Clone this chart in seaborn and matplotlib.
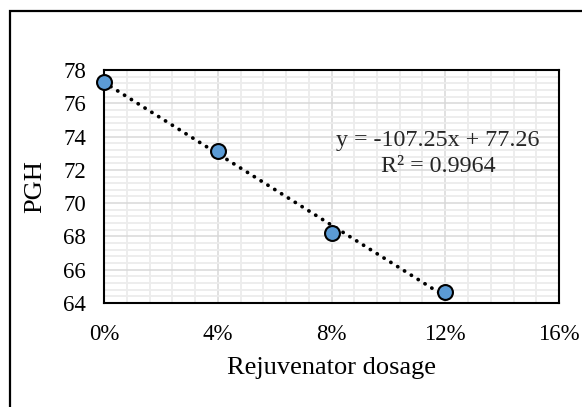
import matplotlib
matplotlib.use("Agg")
import matplotlib.pyplot as plt
import seaborn as sns
import numpy as np
import pandas as pd
from matplotlib.ticker import MultipleLocator, PercentFormatter
from matplotlib.patches import Rectangle

# Data
dosage = [0.00, 0.04, 0.08, 0.12]
pgh = [77.30, 73.15, 68.20, 64.65]
x_ticks = [0.00, 0.04, 0.08, 0.12, 0.16]
y_ticks = [64, 66, 68, 70, 72, 74, 76, 78]
equation_text = "y = -107.25x + 77.26"
r2_text = "R² = 0.9964"
x_label = "Rejuvenator dosage"
y_label = "PGH"

df = pd.DataFrame({"dosage": dosage, "pgh": pgh})

sns.set_theme(style="white")
plt.rcParams["font.family"] = ["Liberation Serif", "DejaVu Serif"]

W, H = 582, 407
fig = plt.figure(figsize=(W / 100, H / 100), dpi=100)
ax = fig.add_axes([104 / W, 1 - 303 / H, 455 / W, 233 / H])

ax.set_xlim(0, 0.16)
ax.set_ylim(64, 78)
ax.set_xticks(x_ticks)
ax.set_yticks(y_ticks)
ax.xaxis.set_minor_locator(MultipleLocator(0.008))
ax.yaxis.set_minor_locator(MultipleLocator(0.4))
ax.xaxis.set_major_formatter(PercentFormatter(1.0, decimals=0))

ax.grid(which="minor", color="#ececec", lw=1.3, zorder=0)
ax.grid(which="major", color="#d9d9d9", lw=1.1, zorder=0)
ax.set_axisbelow(True)

sns.regplot(data=df, x="dosage", y="pgh", scatter=False, ci=None, ax=ax,
            line_kws=dict(color="black", lw=2.7, linestyle=(0, (0.05, 2.1)),
                          dash_capstyle="round", solid_capstyle="round", zorder=3))
sns.scatterplot(data=df, x="dosage", y="pgh", ax=ax, s=115, color="#5B9BD5",
                edgecolor="black", linewidth=1.5, zorder=4, clip_on=False)

for sp in ax.spines.values():
    sp.set_color("black")
    sp.set_linewidth(1.5)
    sp.set_visible(True)

ax.tick_params(axis="both", which="both", length=0, labelsize=16.5, colors="black")
ax.tick_params(axis="y", pad=13)
ax.tick_params(axis="x", pad=15)

ax.set_xlabel(x_label, fontsize=19, color="black", labelpad=9)
ax.set_ylabel(y_label, fontsize=19, color="black", labelpad=12)

fig.text(438 / W, 1 - 146 / H, equation_text, fontsize=17.3, ha="center", va="baseline")
fig.text(438 / W, 1 - 171.5 / H, r2_text, fontsize=17.3, ha="center", va="baseline")

fig.add_artist(Rectangle((9.8 / W, -0.2), 1.3, 1.2 - 10.7 / H, transform=fig.transFigure,
                         fill=False, edgecolor="black", lw=1.6))

fig.savefig("out.png", dpi=100)
